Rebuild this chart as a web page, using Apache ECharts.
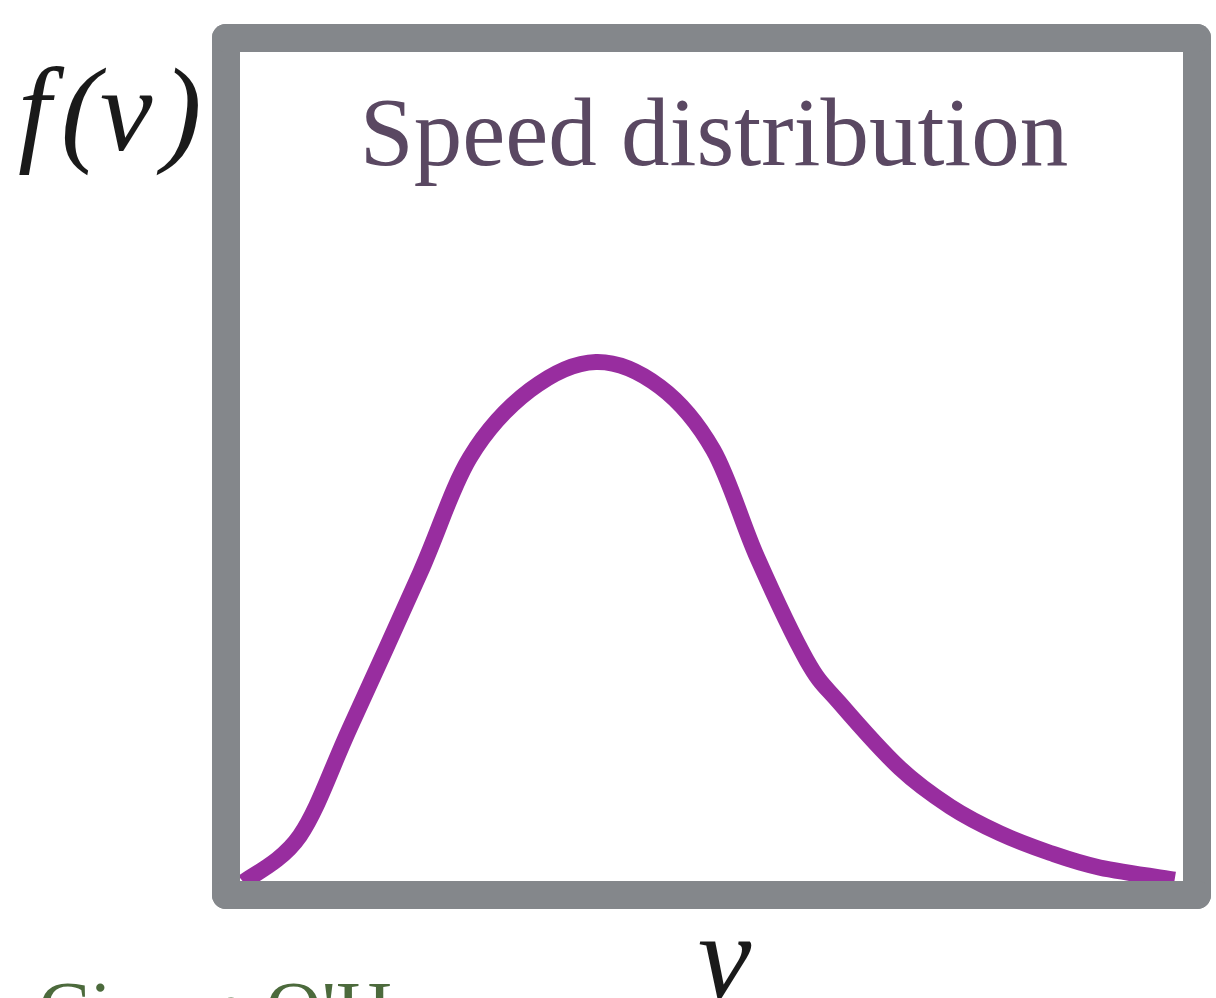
<!DOCTYPE html>
<html>
<head>
<meta charset="utf-8">
<script src="https://cdn.jsdelivr.net/npm/echarts@6/dist/echarts.min.js"></script>
<style>
  html, body { margin: 0; padding: 0; background: #ffffff; }
  #chart { width: 1216px; height: 998px; }
</style>
</head>
<body>
<div id="chart"></div>
<script>
// Speed values (normalised to the frame width) and the distribution f(v)
const speeds = [0.018, 0.076, 0.128, 0.200, 0.251, 0.313, 0.381, 0.447, 0.502, 0.547,
                0.598, 0.632, 0.694, 0.746, 0.797, 0.849, 0.900, 0.977];
const density = [0.015, 0.069, 0.196, 0.376, 0.510, 0.589, 0.622, 0.593, 0.519, 0.394,
                 0.274, 0.224, 0.148, 0.103, 0.072, 0.049, 0.032, 0.018];

const titleText = 'Speed distribution';
const yLabel = 'f\u200A(v\u200A)';
const xLabel = 'v';
const author = "Ciaran O'Hare";

const frameColor = '#84878b';
const curveColor = '#982d9f';

const chart = echarts.init(document.getElementById('chart'), null, { renderer: 'canvas' });

const frameLine = {
  show: true,
  onZero: false,
  lineStyle: { color: frameColor, width: 28, cap: 'round' }
};
const hiddenBits = {
  axisTick: { show: false },
  axisLabel: { show: false },
  splitLine: { show: false }
};

// Draws one smooth Catmull-Rom curve through all (speed, density) points,
// each point placed by the cartesian axes.
function renderCurve(params, api) {
  const pts = speeds.map((v, i) => api.coord([v, density[i]]));
  let d = 'M' + pts[0][0] + ' ' + pts[0][1];
  for (let i = 0; i < pts.length - 1; i++) {
    const p0 = pts[i - 1] || pts[i];
    const p1 = pts[i];
    const p2 = pts[i + 1];
    const p3 = pts[i + 2] || p2;
    const c1x = p1[0] + (p2[0] - p0[0]) / 6;
    const c1y = p1[1] + (p2[1] - p0[1]) / 6;
    const c2x = p2[0] - (p3[0] - p1[0]) / 6;
    const c2y = p2[1] - (p3[1] - p1[1]) / 6;
    d += ' C' + c1x + ' ' + c1y + ' ' + c2x + ' ' + c2y + ' ' + p2[0] + ' ' + p2[1];
  }
  return {
    type: 'path',
    shape: { pathData: d },
    style: { fill: 'none', stroke: curveColor, lineWidth: 16, lineJoin: 'round' }
  };
}

chart.setOption({
  animation: false,
  backgroundColor: '#ffffff',
  title: {
    text: titleText,
    left: 709,
    top: 86,
    textAlign: 'center',
    textStyle: {
      fontFamily: 'Liberation Serif',
      fontWeight: 'normal',
      fontSize: 97,
      color: '#5a4862'
    }
  },
  grid: { left: 226, right: 19, top: 38, bottom: 103, containLabel: false },
  xAxis: [
    Object.assign({ type: 'value', min: 0, max: 1, position: 'bottom', z: 5, axisLine: frameLine }, hiddenBits),
    Object.assign({ type: 'value', min: 0, max: 1, position: 'top', z: 5, axisLine: frameLine }, hiddenBits)
  ],
  yAxis: [
    Object.assign({ type: 'value', min: 0, max: 1, position: 'left', z: 5, axisLine: frameLine }, hiddenBits),
    Object.assign({ type: 'value', min: 0, max: 1, position: 'right', z: 5, axisLine: frameLine }, hiddenBits)
  ],
  series: [{
    type: 'custom',
    xAxisIndex: 0,
    yAxisIndex: 0,
    coordinateSystem: 'cartesian2d',
    data: [[speeds[0], density[0]]],
    renderItem: renderCurve,
    clip: false,
    silent: true,
    z: 2
  }],
  graphic: [
    {
      type: 'text',
      left: 18,
      top: 60,
      style: {
        text: yLabel,
        font: 'italic 118px "Liberation Serif"',
        fill: '#1a1a1a'
      }
    },
    {
      type: 'text',
      left: 698,
      top: 905,
      style: {
        text: xLabel,
        font: 'italic 120px "Liberation Serif"',
        fill: '#1a1a1a'
      }
    },
    {
      type: 'text',
      left: 38,
      top: 976,
      style: {
        text: author,
        font: '78px "Liberation Serif"',
        fill: '#4c6a3c'
      }
    }
  ]
});
</script>
</body>
</html>
